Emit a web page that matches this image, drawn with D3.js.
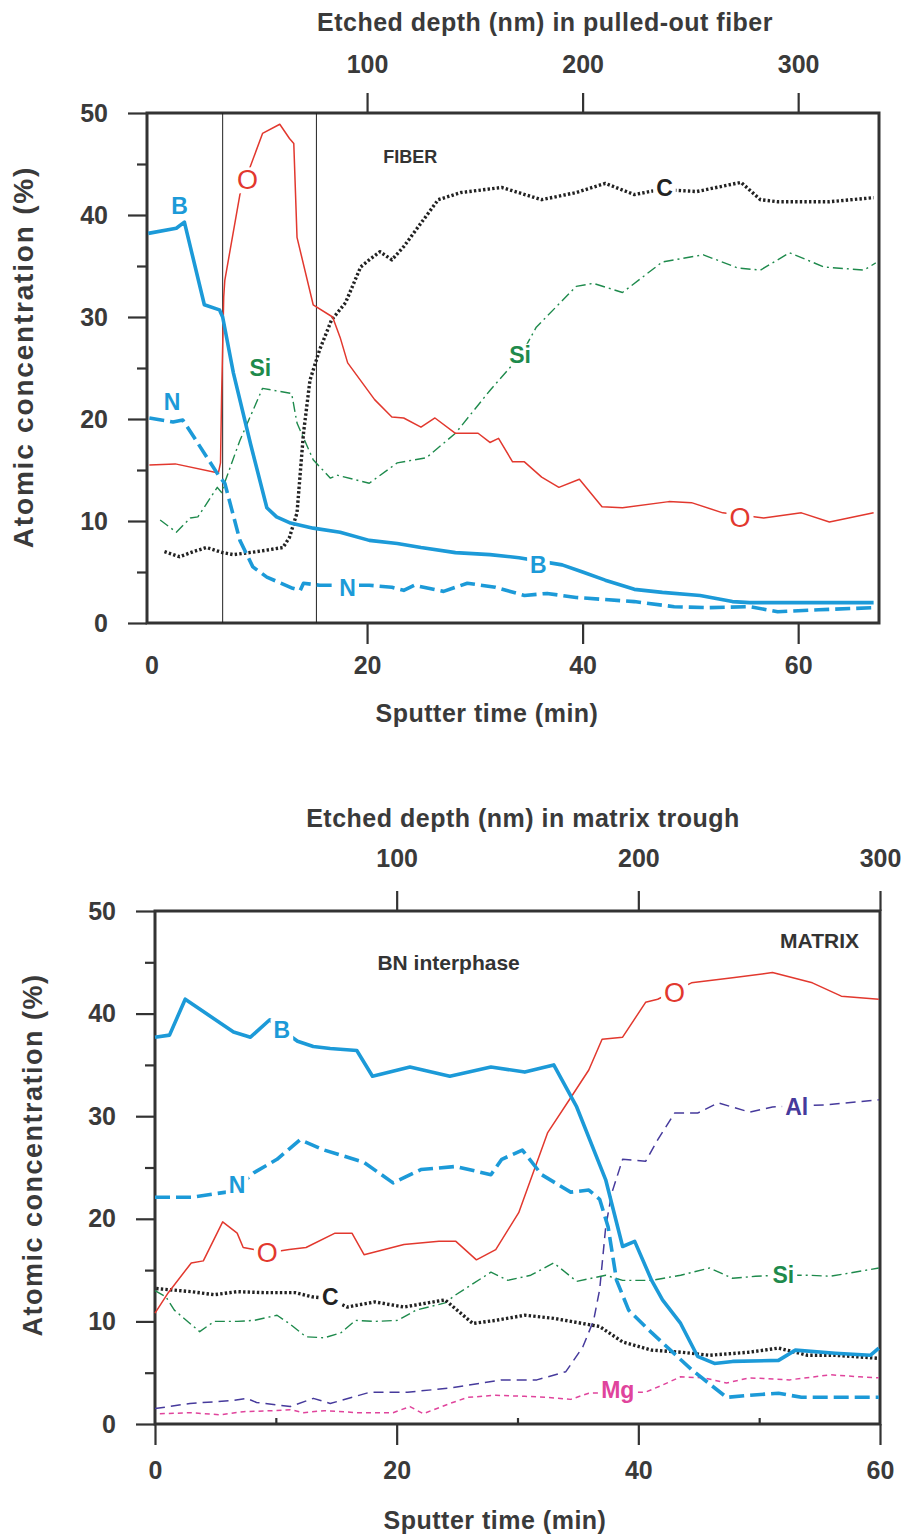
<!DOCTYPE html>
<html>
<head>
<meta charset="utf-8">
<script src="https://cdn.jsdelivr.net/npm/d3@7"></script>
<style>
  body { margin: 0; background: #fff; }
  svg text { font-family: 'Liberation Sans', Arial, sans-serif; fill: #333; }
</style>
</head>
<body>
<div id="chart-area"></div>
<script>
// sputter time (min) vs atomic concentration (%)
var fiberB = [[-0.3,38.2],[2.3,38.7],[3.05,39.3],[4.9,31.2],[6.3,30.7],[6.6,30],[7.6,24.5],[9.2,17.5],[10.7,11.3],[11.6,10.4],[12.9,9.8],[15,9.3],[17.5,8.9],[20.2,8.1],[22.8,7.8],[25,7.4],[28.2,6.9],[31.4,6.7],[34.1,6.4],[38.1,5.7],[40,5.0],[42.1,4.2],[44.8,3.3],[47.4,3.0],[50.9,2.7],[53.9,2.1],[55.5,2.0],[67,2.0]];
var fiberN = [[-0.2,20.1],[2,19.7],[2.9,19.9],[3.4,19.1],[6.2,14.5],[6.8,13.7],[8.2,8.1],[9.4,5.5],[10.7,4.5],[13.1,3.4],[13.8,3.2],[14.1,3.9],[15.6,3.7],[17.5,3.7],[20.2,3.7],[22.3,3.5],[23.4,3.2],[24.4,3.7],[27.1,3.1],[29.3,3.9],[31.9,3.5],[34.6,2.7],[36.7,2.9],[39.4,2.5],[44.8,2.1],[48.5,1.6],[51.7,1.5],[55.5,1.6],[58.1,1.1],[61.9,1.3],[67,1.5]];
var fiberO = [[-0.2,15.5],[2.2,15.6],[6.2,14.7],[6.4,15.7],[6.5,22.2],[6.7,32],[6.8,33.6],[8.2,42],[10.3,48],[11.9,48.9],[12.8,47.5],[13.2,47],[13.5,37.8],[15,31.2],[16.8,30],[17.5,28],[18.2,25.5],[20.7,21.9],[22.3,20.2],[23.4,20.1],[25,19.2],[26.3,20.1],[28.2,18.6],[30.3,18.6],[31.4,17.7],[32.2,18.1],[33.5,15.8],[34.6,15.8],[36.2,14.3],[37.8,13.3],[39.7,14.1],[41.8,11.4],[43.7,11.3],[48,11.9],[50.1,11.8],[53,10.8],[56.8,10.3],[60.3,10.8],[62.9,9.9],[67,10.8]];
var fiberC = [[1.2,7],[2.6,6.5],[3.9,7],[5.1,7.4],[6.6,6.9],[7.6,6.7],[9.8,7.0],[12.2,7.4],[12.8,8.4],[13.5,10.8],[14.1,18.6],[14.7,23.8],[15.6,26.8],[16.7,29.7],[18,31.4],[19.4,34.9],[20.2,35.6],[21.2,36.4],[22.3,35.6],[23.4,36.9],[26.6,41.5],[28.7,42.2],[32.5,42.7],[36.2,41.5],[39.4,42.2],[42.1,43.1],[44.8,42],[47.2,42.5],[50.6,42.3],[54.7,43.2],[56.5,41.5],[58.1,41.3],[62.9,41.3],[67,41.7]];
var fiberSi = [[0.8,10.1],[2.3,8.9],[3.6,10.3],[4.3,10.4],[6.1,13.3],[6.5,12.8],[6.8,13.8],[8.2,17.9],[10.3,23],[13,22.5],[13.5,19.6],[15,16],[16.6,14.2],[17.2,14.5],[20.2,13.7],[22.8,15.7],[25.5,16.2],[28.2,18.6],[31.4,22.8],[34.3,26.3],[35.7,29],[39.4,33],[41,33.3],[43.7,32.4],[47.4,35.4],[51.2,36.1],[54.4,34.8],[56.5,34.6],[59.2,36.3],[62.4,34.9],[66.1,34.6],[67.2,35.3]];
var fiberBoundaries = [6.6, 15.3];

var matrixB = [[0,37.7],[1.2,37.9],[2.5,41.4],[4,40.2],[6.5,38.2],[7.9,37.7],[9.5,39.4],[10.5,38.4],[11.8,37.3],[13.1,36.8],[14.5,36.6],[16.7,36.4],[18,33.9],[21.1,34.8],[24.4,33.9],[27.8,34.8],[30.6,34.3],[33,35],[34.9,30.9],[37.3,23.8],[38.7,17.3],[39.7,17.8],[41.1,14],[42,12.1],[43.5,9.8],[44.9,6.6],[46.3,5.9],[47.8,6.1],[51.6,6.2],[53,7.2],[56.3,6.9],[59.2,6.7],[59.9,7.4]];
var matrixN = [[0,22.1],[3,22.1],[5.9,22.6],[7,23.3],[8.2,24.5],[10.1,25.8],[12,27.7],[14,26.7],[17.3,25.5],[19.7,23.5],[22,24.8],[24.9,25.1],[27.8,24.3],[28.7,25.8],[30.4,26.7],[32,24.3],[34.4,22.6],[35.9,22.8],[36.8,21.9],[37.5,19.2],[38.2,14],[39.2,11.1],[41.1,8.9],[44.4,5.3],[47.3,2.6],[49.2,2.8],[51.6,3],[53.5,2.6],[59.9,2.6]];
var matrixO = [[0,10.8],[1.1,12.8],[3,15.7],[4,15.9],[5.6,19.7],[6.8,18.6],[7.3,17.2],[8.2,17],[9.4,16.7],[11.1,17],[12.5,17.2],[14.9,18.6],[16.3,18.6],[17.3,16.5],[20.6,17.5],[23.5,17.8],[24.9,17.8],[26.6,16],[28.2,17],[30.1,20.6],[32.5,28.4],[34.4,31.8],[35.9,34.5],[37,37.5],[38.7,37.7],[40.6,41.1],[41.6,41.4],[43,42.2],[44.4,43],[47.8,43.5],[51.1,44],[54.4,43],[56.8,41.7],[59.9,41.4]];
var matrixC = [[0.1,13.2],[3,12.9],[4.9,12.6],[6.8,12.9],[9.2,12.8],[11.6,12.8],[13,12.4],[14.5,12.2],[15.9,11.4],[18.2,11.9],[20.6,11.4],[24,12.1],[26.3,9.8],[28.2,10.1],[30.6,10.6],[33,10.3],[36.8,9.5],[38.7,8.0],[41.1,7.2],[43.5,7.0],[45.9,6.7],[49.2,7.0],[51.6,7.4],[54,6.7],[56.3,6.7],[59.9,6.4]];
var matrixSi = [[0,13],[0.9,12.4],[1.6,11.1],[3.7,9.0],[4.9,10],[6.8,10],[8.2,10.1],[10.1,10.6],[11.1,9.8],[12.5,8.5],[14,8.4],[15.4,8.9],[16.6,10.1],[18.2,10],[20.1,10.1],[21.6,11.1],[24,11.8],[24.9,12.6],[27.8,14.8],[29.2,14],[31.1,14.5],[33,15.7],[34.9,13.9],[37.3,14.5],[38.7,14],[41.1,14],[43.5,14.5],[45.9,15.2],[47.8,14.2],[49.7,14.4],[51.6,14.5],[54,14.5],[55.9,14.4],[59.9,15.2]];
var matrixAl = [[0,1.5],[2.9,2],[6.5,2.3],[7.6,2.5],[8.4,2.1],[11.2,1.7],[13.1,2.5],[14.5,2.0],[17.8,3.1],[20.9,3.1],[24.4,3.5],[28.7,4.3],[31.6,4.3],[34,5.1],[35.4,7.5],[36.3,10.1],[36.8,13.1],[37.3,19.2],[37.8,22.5],[38.7,25.8],[40.6,25.6],[41.6,27.7],[43,30.3],[44.9,30.3],[46.6,31.3],[49.2,30.4],[51.1,30.9],[55.4,31.1],[59.9,31.6]];
var matrixMg = [[0.4,1.0],[3,1.1],[5.4,0.9],[7.3,1.2],[9.7,1.3],[11.2,1.4],[12.3,1.1],[14,1.3],[16.8,1.1],[19.7,1.1],[21.1,1.7],[22.2,1.0],[24.4,2.0],[25.9,2.6],[28.2,2.8],[30.6,2.7],[32.5,2.6],[34.4,2.4],[35.9,3.0],[38.5,3.1],[40.6,3.1],[42,3.8],[43.5,4.6],[45.4,4.5],[47.3,4.0],[49.2,4.5],[52.5,4.3],[55.9,4.8],[58.3,4.6],[59.9,4.5]];

// annotations: [text, time, concentration, element]
var fiberLabels = [["B",2.6,40.9,"B"],["N",1.9,21.7,"N"],["Si",10.1,25,"Si"],["O",8.9,43.4,"O"],["C",47.6,42.6,"C"],["Si",34.2,26.3,"Si"],["O",54.6,10.3,"O"],["B",35.9,5.7,"B"],["N",18.2,3.4,"N"]];
var matrixLabels = [["B",10.5,38.4,"B"],["N",6.8,23.3,"N"],["O",9.3,16.7,"O"],["C",14.5,12.4,"C"],["O",43,42,"O"],["Al",53.1,30.9,"Al"],["Si",52,14.5,"Si"],["Mg",38.3,3.3,"Mg"]];

var yTicks = [0, 10, 20, 30, 40, 50];
var yMinor = [5, 15, 25, 35, 45];
var timeTicks = [0, 20, 40, 60];
var depthTicks = [100, 200, 300];

var styles = {
  B:  {color: "#1c9ad8", width: 3.6, dash: null},
  N:  {color: "#1c9ad8", width: 3.6, dash: "15,6"},
  O:  {color: "#e2382e", width: 1.5, dash: null},
  C:  {color: "#222222", width: 3.4, dash: "2.4,2.2"},
  Si: {color: "#1e8a4c", width: 1.4, dash: "10,4,2,4"},
  Al: {color: "#463a9c", width: 1.5, dash: "10,6"},
  Mg: {color: "#e0449c", width: 1.5, dash: "5,4"}
};

var svg = d3.select('#chart-area')
  .append('svg')
    .attr('width', 902)
    .attr('height', 1534);

function drawPanel(p) {
  var g = svg.append("g");

  var x = d3.scaleLinear().domain(p.timeDomain).range([p.left, p.right]);
  var depth = d3.scaleLinear().domain(p.timeDomain.map(function (t) { return t * 5; })).range([p.left, p.right]);
  var y = d3.scaleLinear().domain([0, 50]).range([p.bottom, p.top]);

  // axes (ticks only, the frame is drawn separately)
  g.append("g").attr("transform", "translate(" + p.left + ",0)")
    .call(d3.axisLeft(y).tickValues(yTicks).tickSize(19).tickPadding(p.yPad));
  g.append("g").attr("transform", "translate(" + p.left + ",0)")
    .call(d3.axisLeft(y).tickValues(yMinor).tickSize(10).tickFormat(""));

  var bottomAxis = g.append("g").attr("transform", "translate(0," + p.bottom + ")")
    .call(d3.axisBottom(x).tickValues(timeTicks).tickSize(21).tickPadding(p.xPad));
  if (!p.zeroTick) {
    bottomAxis.selectAll(".tick").filter(function (d) { return d === 0; })
      .select("line").remove();
  }
  if (p.timeMinor.length) {
    g.append("g").attr("transform", "translate(0," + p.bottom + ")")
      .call(d3.axisBottom(x).tickValues(p.timeMinor).tickSize(-6).tickFormat(""));
  }
  g.append("g").attr("transform", "translate(0," + p.top + ")")
    .call(d3.axisTop(depth).tickValues(depthTicks).tickSize(20).tickPadding(p.topPad));

  g.selectAll(".domain").remove();
  g.selectAll(".tick line").attr("stroke", "#333").attr("stroke-width", 2.2);
  g.selectAll(".tick text")
    .attr("font-size", "25px").attr("font-weight", "bold")
    .style("font-family", "'Liberation Sans', Arial, sans-serif")
    .style("fill", "#3a3a3a");

  g.append("rect")
    .attr("x", p.left).attr("y", p.top)
    .attr("width", p.right - p.left).attr("height", p.bottom - p.top)
    .attr("fill", "none").attr("stroke", "#333").attr("stroke-width", 3);

  g.selectAll(".boundary")
    .data(p.boundaries)
    .enter().append("line")
      .attr("x1", function (d) { return x(d); }).attr("x2", function (d) { return x(d); })
      .attr("y1", p.top).attr("y2", p.bottom)
      .attr("stroke", "#222").attr("stroke-width", 1);

  var line = d3.line()
    .x(function (d) { return x(d[0]); })
    .y(function (d) { return y(d[1]); });

  g.selectAll(".series")
    .data(p.series)
    .enter().append("path")
      .attr("d", function (d) { return line(d.values); })
      .attr("fill", "none")
      .attr("stroke", function (d) { return styles[d.el].color; })
      .attr("stroke-width", function (d) { return styles[d.el].width; })
      .attr("stroke-dasharray", function (d) { return styles[d.el].dash; })
      .attr("stroke-linejoin", "round");

  // element labels sit on a white patch that breaks the line, as in the original
  var labs = g.selectAll(".lab")
    .data(p.labels)
    .enter().append("g");
  labs.append("rect").attr("fill", "#fff");
  labs.append("text")
      .attr("x", function (d) { return x(d[1]); })
      .attr("y", function (d) { return y(d[2]); })
      .attr("text-anchor", "middle")
      .attr("dominant-baseline", "central")
      .attr("font-size", function (d) { return d[0] === "O" ? "27px" : "23px"; })
      .attr("font-weight", function (d) { return d[0] === "O" ? "normal" : "bold"; })
      .style("fill", function (d) { return styles[d[3]].color; })
      .text(function (d) { return d[0]; });
  labs.each(function () {
    var grp = d3.select(this);
    var b = grp.select("text").node().getBBox();
    grp.select("rect")
      .attr("x", b.x - 3).attr("y", b.y + 2)
      .attr("width", b.width + 6).attr("height", b.height - 4);
  });

  p.notes.forEach(function (n) {
    g.append("text")
      .attr("x", x(n[1])).attr("y", y(n[2]))
      .attr("text-anchor", "middle").attr("dominant-baseline", "central")
      .attr("font-size", n[3] + "px").attr("font-weight", "bold")
      .text(n[0]);
  });

  g.append("text")
    .attr("x", p.topTitle[1]).attr("y", p.topTitle[2])
    .attr("text-anchor", "middle").attr("dominant-baseline", "central")
    .attr("font-size", "25px").attr("font-weight", "bold")
    .attr("letter-spacing", "0.5px")
    .style("fill", "#3a3a3a")
    .text(p.topTitle[0]);

  g.append("text")
    .attr("x", p.bottomTitle[0]).attr("y", p.bottomTitle[1])
    .attr("text-anchor", "middle").attr("dominant-baseline", "central")
    .attr("font-size", "25px").attr("font-weight", "bold")
    .attr("letter-spacing", "0.5px")
    .style("fill", "#3a3a3a")
    .text("Sputter time (min)");

  g.append("text")
    .attr("transform", "translate(" + p.yTitle[0] + "," + p.yTitle[1] + ") rotate(-90)")
    .attr("text-anchor", "middle").attr("dominant-baseline", "central")
    .attr("font-size", p.yTitle[2] + "px").attr("font-weight", "bold")
    .attr("letter-spacing", p.yTitle[3] + "px")
    .style("fill", "#3a3a3a")
    .text("Atomic concentration (%)");
}

drawPanel({
  left: 147, right: 879, top: 113, bottom: 623,
  timeDomain: [-0.42, 67.5],
  zeroTick: false, timeMinor: [],
  yPad: 20, xPad: 12, topPad: 20,
  boundaries: fiberBoundaries,
  series: [
    {el: "Si", values: fiberSi}, {el: "C", values: fiberC}, {el: "O", values: fiberO},
    {el: "N", values: fiberN}, {el: "B", values: fiberB}
  ],
  labels: fiberLabels,
  notes: [["FIBER", 24, 45.7, 18]],
  topTitle: ["Etched depth (nm) in pulled-out fiber", 545, 22],
  bottomTitle: [487, 713],
  yTitle: [23, 357, 28, 1.8]
});

drawPanel({
  left: 155, right: 880, top: 911, bottom: 1424,
  timeDomain: [0, 60],
  zeroTick: true, timeMinor: [10, 30, 50],
  yPad: 20, xPad: 16, topPad: 24,
  boundaries: [],
  series: [
    {el: "Mg", values: matrixMg}, {el: "Al", values: matrixAl}, {el: "Si", values: matrixSi},
    {el: "C", values: matrixC}, {el: "O", values: matrixO}, {el: "N", values: matrixN},
    {el: "B", values: matrixB}
  ],
  labels: matrixLabels,
  notes: [["BN interphase", 24.3, 45, 21], ["MATRIX", 55, 47.1, 21]],
  topTitle: ["Etched depth (nm) in matrix trough", 523, 818],
  bottomTitle: [495, 1520],
  yTitle: [33, 1155, 27, 1.5]
});
</script>
</body>
</html>
